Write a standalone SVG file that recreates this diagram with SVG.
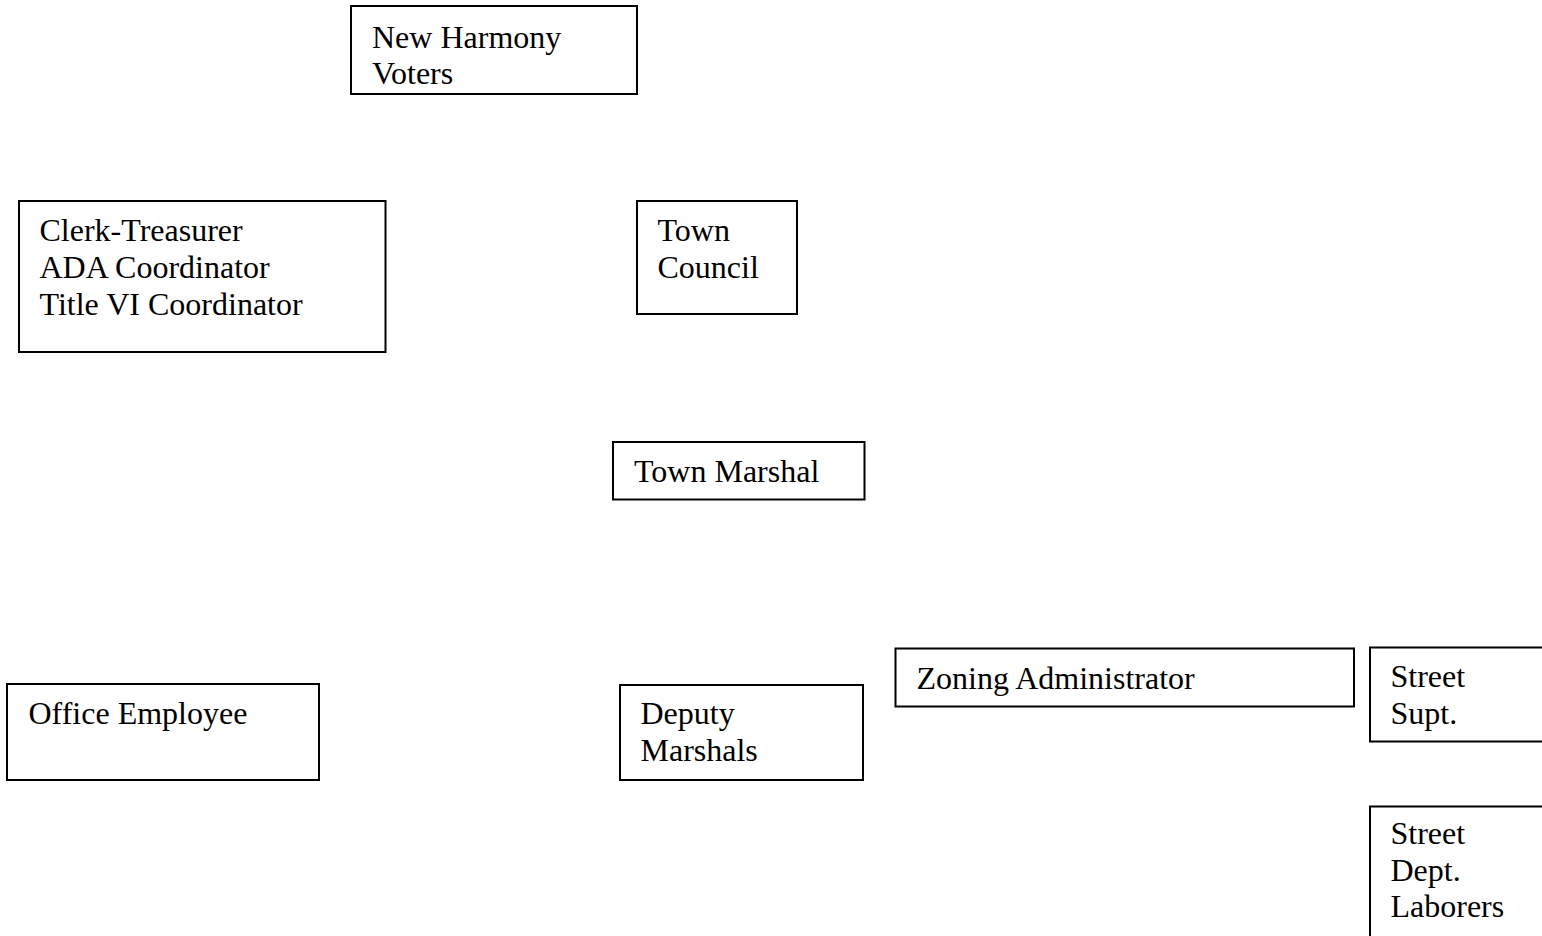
<svg xmlns="http://www.w3.org/2000/svg" width="1542" height="936" viewBox="0 0 1542 936">
<style>
.box{fill:#fff;stroke:#000;stroke-width:2}
.t{font-family:"Liberation Serif","Times New Roman",serif;font-size:32px;fill:#000}
</style>
<rect width="1542" height="936" fill="#fff"/>
<g id="connectors"></g>
<g id="voters"><rect class="box" x="351" y="6" width="286" height="88"/><text class="t" x="372" y="48">New Harmony</text><text class="t" x="372" y="83.5">Voters</text></g>
<g id="clerk"><rect class="box" x="19" y="201" width="366.5" height="151"/><text class="t" x="39.5" y="241">Clerk-Treasurer</text><text class="t" x="39.5" y="278">ADA Coordinator</text><text class="t" x="39.5" y="315">Title VI Coordinator</text></g>
<g id="council"><rect class="box" x="637" y="201" width="160" height="113"/><text class="t" x="657.5" y="241">Town</text><text class="t" x="657.5" y="278">Council</text></g>
<g id="marshal"><rect class="box" x="613" y="442" width="251.5" height="57.5"/><text class="t" x="634" y="482">Town Marshal</text></g>
<g id="zoning"><rect class="box" x="895.5" y="648.5" width="458.5" height="58"/><text class="t" x="916.5" y="688.5">Zoning Administrator</text></g>
<g id="supt"><rect class="box" x="1370" y="647.5" width="180" height="94"/><text class="t" x="1390.5" y="687">Street</text><text class="t" x="1390.5" y="723.5">Supt.</text></g>
<g id="laborers"><rect class="box" x="1370" y="806.5" width="180" height="150"/><text class="t" x="1390.5" y="844">Street</text><text class="t" x="1390.5" y="880.5">Dept.</text><text class="t" x="1390.5" y="917">Laborers</text></g>
<g id="office"><rect class="box" x="7" y="684" width="312" height="96"/><text class="t" x="28.5" y="724">Office Employee</text></g>
<g id="deputy"><rect class="box" x="620" y="685" width="243" height="95"/><text class="t" x="640.5" y="724">Deputy</text><text class="t" x="640.5" y="761">Marshals</text></g>
</svg>
